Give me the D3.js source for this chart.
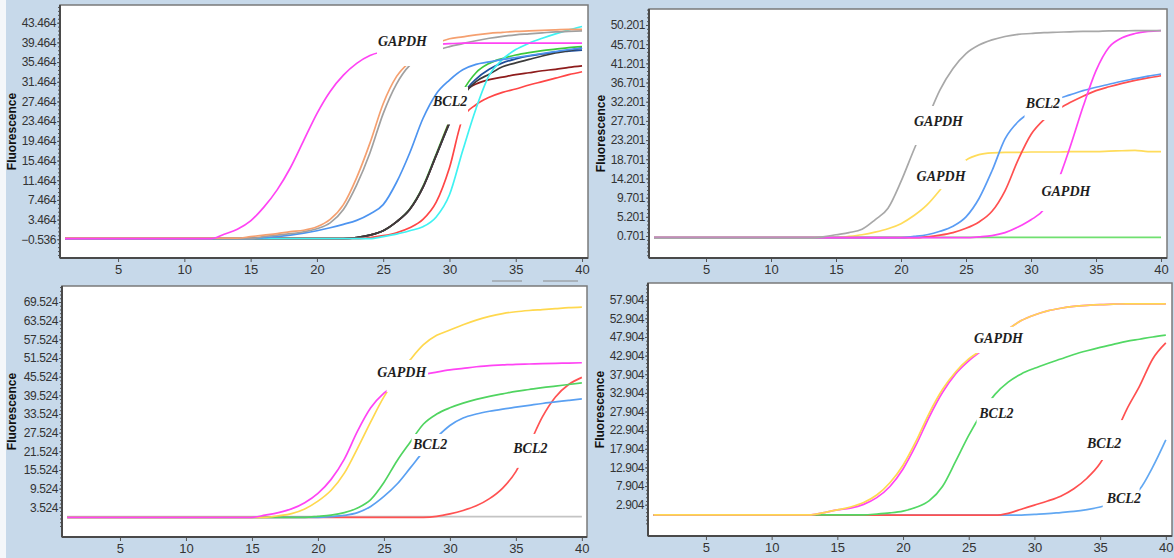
<!DOCTYPE html>
<html>
<head>
<meta charset="utf-8">
<script src="https://cdn.jsdelivr.net/npm/d3@7"></script>
<style>
body { margin: 0; background: #fff; }
svg text { font-family: "Liberation Sans", Arial, sans-serif; }
</style>
</head>
<body>
<script>
let width = 1174, height = 558;

// amplification cycles and axis ticks
const cycles = [1,2,3,4,5,6,7,8,9,10,11,12,13,14,15,16,17,18,19,20,21,22,23,24,25,26,27,28,29,30,31,32,33,34,35,36,37,38,39,40];
const xTicks = [5,10,15,20,25,30,35,40];
const ticksA = [-0.536,3.464,7.464,11.464,15.464,19.464,23.464,27.464,31.464,35.464,39.464,43.464];
const ticksB = [0.701,5.201,9.701,14.201,18.701,23.201,27.701,32.201,36.701,41.201,45.701,50.201];
const ticksC = [3.524,9.524,15.524,21.524,27.524,33.524,39.524,45.524,51.524,57.524,63.524,69.524];
const ticksD = [2.904,7.904,12.904,17.904,22.904,27.904,32.904,37.904,42.904,47.904,52.904,57.904];

// panel A (top left)
const aPink    = [-0.4,-0.4,-0.4,-0.4,-0.4,-0.4,-0.4,-0.4,-0.4,-0.4,-0.4,-0.4,0.5,1.5,3.2,6,9.5,14,19.5,25,29.5,32.8,35.2,36.8,37.6,38.2,38.6,38.9,39.1,39.2,39.3,39.3,39.3,39.3,39.3,39.3,39.3,39.3,39.3,39.3];
const aOrange  = [-0.3,-0.3,-0.3,-0.3,-0.3,-0.3,-0.3,-0.3,-0.3,-0.3,-0.3,-0.3,-0.3,-0.3,0,0.3,0.6,1.0,1.3,2,3.5,6.5,12,19,27,32.5,35.5,37.5,39.2,40.2,40.6,41,41.3,41.5,41.7,41.8,41.9,42,42.1,42.1];
const aGray    = [-0.4,-0.4,-0.4,-0.4,-0.4,-0.4,-0.4,-0.4,-0.4,-0.4,-0.4,-0.4,-0.4,-0.4,-0.4,0,0.3,0.6,1.0,1.6,2.8,5.5,10.5,17,25,31,34.8,36.5,37.8,38.6,39.2,39.8,40.3,40.7,41,41.2,41.4,41.6,41.7,41.8];
const aBlue    = [-0.4,-0.4,-0.4,-0.4,-0.4,-0.4,-0.4,-0.4,-0.4,-0.4,-0.4,-0.4,-0.4,-0.4,-0.4,-0.2,0,0.3,0.7,1.2,1.8,2.5,3.3,4.6,6.5,11,17,24,29,31.8,33.9,35,35.5,36,36.4,36.8,37.2,37.6,38,38.3];
const aBlack   = [-0.4,-0.4,-0.4,-0.4,-0.4,-0.4,-0.4,-0.4,-0.4,-0.4,-0.4,-0.4,-0.4,-0.4,-0.4,-0.4,-0.4,-0.4,-0.4,-0.4,-0.4,-0.4,-0.2,0.3,1.2,3,5.5,10,16.5,23,28.5,31.5,33,34.5,35.3,36,36.7,37.3,37.8,38.3];
const aGreen   = [-0.4,-0.4,-0.4,-0.4,-0.4,-0.4,-0.4,-0.4,-0.4,-0.4,-0.4,-0.4,-0.4,-0.4,-0.4,-0.4,-0.4,-0.4,-0.4,-0.4,-0.4,-0.4,-0.2,0.3,1.2,3,5.6,10.2,16.8,23.5,29.5,33.3,35.2,36.2,36.9,37.4,37.8,38.1,38.4,38.6];
const aDarkRed = [-0.4,-0.4,-0.4,-0.4,-0.4,-0.4,-0.4,-0.4,-0.4,-0.4,-0.4,-0.4,-0.4,-0.4,-0.4,-0.4,-0.4,-0.4,-0.4,-0.4,-0.4,-0.4,-0.2,0.3,1.2,3,5.5,10,16.5,23.2,29,31,31.9,32.4,32.9,33.3,33.7,34,34.4,34.7];
const aNavy    = [-0.4,-0.4,-0.4,-0.4,-0.4,-0.4,-0.4,-0.4,-0.4,-0.4,-0.4,-0.4,-0.4,-0.4,-0.4,-0.4,-0.4,-0.4,-0.4,-0.4,-0.4,-0.4,-0.2,0.3,1.2,3,5.5,10,16.5,23,28.8,32,34,35.3,36.1,36.7,37.1,37.5,37.7,37.9];
const aRed     = [-0.4,-0.4,-0.4,-0.4,-0.4,-0.4,-0.4,-0.4,-0.4,-0.4,-0.4,-0.4,-0.4,-0.4,-0.4,-0.4,-0.4,-0.4,-0.4,-0.4,-0.4,-0.4,-0.4,-0.2,0.2,0.8,1.8,3.5,7,14,24,26.8,28.3,29.3,30,30.8,31.5,32.2,32.9,33.5];
const aCyan    = [-0.4,-0.4,-0.4,-0.4,-0.4,-0.4,-0.4,-0.4,-0.4,-0.4,-0.4,-0.4,-0.4,-0.4,-0.4,-0.4,-0.4,-0.4,-0.4,-0.4,-0.4,-0.4,-0.4,-0.4,0,0.5,1.2,2.0,4,8.5,17.5,26,32.8,36,38,39.3,40.3,41.2,42,42.7];

// panel B (top right)
const bGray    = [0.2,0.2,0.2,0.2,0.2,0.2,0.2,0.2,0.2,0.2,0.2,0.2,0.2,0.5,1.0,1.5,2.3,4.5,7.2,13.5,21,28,35,40,43.5,45.5,46.7,47.5,48,48.2,48.4,48.5,48.6,48.7,48.7,48.8,48.8,48.9,48.9,48.9];
const bYellow  = [0.3,0.3,0.3,0.3,0.3,0.3,0.3,0.3,0.3,0.3,0.3,0.3,0.3,0.3,0.3,0.6,1.0,1.6,2.4,3.6,5.5,8,11.5,15.5,18.5,19.8,20.2,20.3,20.3,20.4,20.4,20.4,20.5,20.5,20.5,20.6,20.7,20.8,20.5,20.5];
const bBlue    = [0.3,0.3,0.3,0.3,0.3,0.3,0.3,0.3,0.3,0.3,0.3,0.3,0.3,0.3,0.3,0.3,0.3,0.3,0.3,0.3,0.6,1.0,1.8,3.0,5.2,9.5,16,23.5,27.5,29.8,31.5,32.8,33.8,34.8,35.6,36.3,37,37.6,38.2,38.7];
const bRed     = [0.3,0.3,0.3,0.3,0.3,0.3,0.3,0.3,0.3,0.3,0.3,0.3,0.3,0.3,0.3,0.3,0.3,0.3,0.3,0.3,0.3,0.5,0.9,1.5,2.5,4,6.5,11.3,18.5,24.5,28,30.3,32,33.5,34.8,35.7,36.5,37.2,37.8,38.3];
const bPink    = [0.3,0.3,0.3,0.3,0.3,0.3,0.3,0.3,0.3,0.3,0.3,0.3,0.3,0.3,0.3,0.3,0.3,0.3,0.3,0.3,0.3,0.3,0.3,0.3,0.3,0.5,0.8,1.5,2.8,4.5,7,13,21.5,31,39.5,45,47.2,48.2,48.7,48.9];
const bGreen   = [0.4,0.4,0.4,0.4,0.4,0.4,0.4,0.4,0.4,0.4,0.4,0.4,0.4,0.4,0.4,0.4,0.4,0.4,0.4,0.4,0.4,0.4,0.4,0.4,0.4,0.4,0.4,0.4,0.4,0.4,0.4,0.4,0.4,0.4,0.4,0.4,0.4,0.4,0.4,0.4];

// panel C (bottom left)
const cGray    = [0.5,0.5,0.5,0.5,0.5,0.5,0.5,0.5,0.5,0.5,0.5,0.5,0.5,0.5,0.5,0.5,0.5,0.5,0.5,0.5,0.5,0.5,0.5,0.5,0.5,0.5,0.5,0.5,0.5,0.5,0.5,0.5,0.5,0.5,0.5,0.5,0.5,0.5,0.5,0.5];
const cPink    = [0.3,0.3,0.3,0.3,0.3,0.3,0.3,0.3,0.3,0.3,0.3,0.3,0.3,0.3,0.3,1.0,1.8,3.0,5,8,12.5,19,28,35.5,40.2,43.2,45,46.2,47,47.7,48.2,48.7,49.1,49.3,49.5,49.6,49.7,49.8,49.9,50];
const cYellow  = [0.3,0.3,0.3,0.3,0.3,0.3,0.3,0.3,0.3,0.3,0.3,0.3,0.3,0.3,0.3,0.3,0.8,1.5,3,5.5,9,14.5,22.5,31,39,45.5,51,55.8,58.8,60.5,62.2,63.7,64.9,65.8,66.4,66.8,67.1,67.4,67.7,67.9];
const cGreen   = [0.3,0.3,0.3,0.3,0.3,0.3,0.3,0.3,0.3,0.3,0.3,0.3,0.3,0.3,0.3,0.3,0.3,0.3,0.3,0.6,1.0,1.8,3.3,6,11.5,18.5,24.5,30.3,33.5,35.5,37,38.2,39.2,40,40.8,41.4,42,42.5,43,43.5];
const cBlue    = [0.3,0.3,0.3,0.3,0.3,0.3,0.3,0.3,0.3,0.3,0.3,0.3,0.3,0.3,0.3,0.3,0.3,0.3,0.3,0.3,0.5,0.9,1.8,3.8,7,11,16.2,21.5,26,29.8,32.2,33.5,34.4,35.1,35.7,36.3,36.9,37.4,37.9,38.4];
const cRed     = [0.3,0.3,0.3,0.3,0.3,0.3,0.3,0.3,0.3,0.3,0.3,0.3,0.3,0.3,0.3,0.3,0.3,0.3,0.3,0.3,0.3,0.3,0.3,0.3,0.3,0.3,0.3,0.3,0.6,1.4,2.5,4,6.3,9.7,15,23.5,32.5,39,43,45.3];

// panel D (bottom right)
const dYellow  = [0.2,0.2,0.2,0.2,0.2,0.2,0.2,0.2,0.2,0.2,0.2,0.2,0.2,0.8,1.5,2.3,3.5,5.5,8.8,13.5,20,27.5,33.8,38.5,42,44.5,47.5,50,52.3,53.8,54.9,55.6,56.1,56.4,56.6,56.7,56.8,56.8,56.8,56.8];
const dPink    = [0.2,0.2,0.2,0.2,0.2,0.2,0.2,0.2,0.2,0.2,0.2,0.2,0.2,0.8,1.5,2.0,3.0,4.8,7.8,12.5,19,26.5,33,38,41.5,44.3,47.4,50,52.3,53.8,54.9,55.6,56.1,56.4,56.6,56.7,56.8,56.8,56.8,56.8];
const dGreen   = [0.2,0.2,0.2,0.2,0.2,0.2,0.2,0.2,0.2,0.2,0.2,0.2,0.2,0.2,0.2,0.2,0.2,0.4,0.7,1.2,2.2,4,7.8,14.5,21.5,27.5,32.5,35.8,38,39.5,40.8,42,43.2,44.2,45.1,45.9,46.7,47.3,47.9,48.4];
const dRed     = [0.1,0.1,0.1,0.1,0.1,0.1,0.1,0.1,0.1,0.1,0.1,0.1,0.1,0.1,0.1,0.1,0.1,0.1,0.1,0.1,0.1,0.1,0.1,0.1,0.1,0.1,0.1,0.6,1.7,2.8,3.9,5.2,7.2,10,14,20.5,28.3,34.7,42,46.3];
const dBlue    = [0.1,0.1,0.1,0.1,0.1,0.1,0.1,0.1,0.1,0.1,0.1,0.1,0.1,0.1,0.1,0.1,0.1,0.1,0.1,0.1,0.1,0.1,0.1,0.1,0.1,0.1,0.1,0.1,0.1,0.3,0.5,0.8,1.1,1.6,2.3,3.3,4.8,7,13,20.3];

// gene labels (left/baseline, in cycle / fluorescence units)
const notesA = [{t: 'GAPDH', c: 24.6, v: 38.7}, {t: 'BCL2', c: 28.76, v: 26.5}];
const notesB = [{t: 'GAPDH', c: 21, v: 26.5}, {t: 'GAPDH', c: 21.2, v: 13.6}, {t: 'BCL2', c: 29.6, v: 30.7}, {t: 'GAPDH', c: 30.8, v: 10.1}];
const notesC = [{t: 'GAPDH', c: 24.5, v: 45.4}, {t: 'BCL2', c: 27.2, v: 22.3}, {t: 'BCL2', c: 34.8, v: 21}];
const notesD = [{t: 'GAPDH', c: 25.4, v: 46.3}, {t: 'BCL2', c: 25.8, v: 26.2}, {t: 'BCL2', c: 34, v: 18.1}, {t: 'BCL2', c: 35.5, v: 3.4}];

// white boxes pasted over the curves behind the labels: [c0, c1, v0, v1]
const gapsA = [[24.53, 29.51, 34.67, 42.99], [29.74, 31.4, 22.8, 30.4]];
const gapsB = [[20.7, 25.0, 22.05, 31.2], [21, 25, 11.7, 18.5], [29.5, 32.4, 27.9, 34.0], [30.6, 34.6, 6.56, 15.2]];
const gapsC = [[25.2, 28.35, 40.6, 50.9], [27.1, 30.0, 20.0, 27.1], [34.7, 37.6, 16.2, 27.1]];
const gapsD = [[25.3, 29.1, 43.6, 50.6], [25.6, 28.7, 22.9, 31.5], [33.9, 36.8, 14.9, 25.6], [35.2, 38.0, 1.7, 7.9]];

const panels = [
    {box: [60, 5, 588, 258], xd: [0.62, 40.45], yd: [-4.34, 47.06], ticks: ticksA, step: 4, labX: 12, notes: notesA, gaps: gapsA,
     lines: [[aGreen, '#3cc83c'], [aNavy, '#1f4f9c'], [aDarkRed, '#8e1c1c'], [aBlack, '#3c3c3c'], [aRed, '#ff4646'], [aCyan, '#3ff2f2'],
             [aBlue, '#4d94f0'], [aGray, '#a0a0a0'], [aOrange, '#f5a070'], [aPink, '#ff44f4']]},
    {box: [649, 9, 1167, 258], xd: [0.615, 40.46], yd: [-4.46, 53.95], ticks: ticksB, step: 4.5, labX: 601, notes: notesB, gaps: gapsB,
     lines: [[bGreen, '#70e070'], [bYellow, '#ffdc5a'], [bRed, '#ff5050'], [bBlue, '#5a9cf4'], [bPink, '#ff44f4'], [bGray, '#a8a8a8']]},
    {box: [62, 286, 587, 537], xd: [0.606, 40.39], yd: [-6.03, 74.67], ticks: ticksC, step: 6, labX: 12, notes: notesC, gaps: gapsC,
     lines: [[cGray, '#c4c4c4'], [cRed, '#ff5252'], [cBlue, '#5aa0f2'], [cGreen, '#50d460'], [cYellow, '#ffd84e'], [cPink, '#ff44f4']]},
    {box: [648, 283, 1172, 536], xd: [0.59, 40.47], yd: [-5.49, 62.38], ticks: ticksD, step: 5, labX: 600, notes: notesD, gaps: gapsD,
     lines: [[dBlue, '#62a8f2'], [dRed, '#ff5050'], [dGreen, '#52d864'], [dPink, '#ff44f4'], [dYellow, '#ffd850']]}
];

let svg = d3.select('body').append('svg')
    .attr('width', width)
    .attr('height', height);

svg.append('rect').attr('width', width).attr('height', height).attr('fill', '#c7d9ea');
svg.append('rect').attr('width', 6).attr('height', height).attr('fill', '#f4f7fa');

// leftover scraps of the cropped screenshot
svg.append('line').attr('x1', 492).attr('x2', 522).attr('y1', 281).attr('y2', 281).attr('stroke', '#8a8a8a');
svg.append('line').attr('x1', 543).attr('x2', 578).attr('y1', 281).attr('y2', 281).attr('stroke', '#8a8a8a');

panels.forEach(function(p, i) {
    let [x0, y0, x1, y1] = p.box;
    let x = d3.scaleLinear().domain(p.xd).range([x0, x1]);
    let y = d3.scaleLinear().domain(p.yd).range([y1, y0]);
    let g = svg.append('g');

    g.append('rect')
        .attr('x', x0).attr('y', y0)
        .attr('width', x1 - x0).attr('height', y1 - y0)
        .attr('fill', '#fff')
        .attr('stroke', '#7a7a7a')
        .attr('stroke-width', 1.5);

    svg.append('clipPath').attr('id', 'clip' + i)
        .append('rect').attr('x', x0 + 1).attr('y', y0 + 1)
        .attr('width', x1 - x0 - 2).attr('height', y1 - y0 - 2);

    let line = d3.line()
        .x(d => x(d[0]))
        .y(d => y(d[1]))
        .curve(d3.curveMonotoneX);

    let plot = g.append('g').attr('clip-path', 'url(#clip' + i + ')');
    plot.selectAll('path.curve').data(p.lines)
        .enter().append('path')
        .attr('class', 'curve')
        .attr('d', d => line(d3.zip(cycles, d[0])))
        .attr('fill', 'none')
        .attr('stroke', d => d[1])
        .attr('stroke-width', 1.7);

    plot.selectAll('rect.gap').data(p.gaps)
        .enter().append('rect')
        .attr('class', 'gap')
        .attr('x', d => x(d[0]))
        .attr('y', d => y(d[3]))
        .attr('width', d => x(d[1]) - x(d[0]))
        .attr('height', d => y(d[2]) - y(d[3]))
        .attr('fill', '#fff');

    plot.selectAll('text.note').data(p.notes)
        .enter().append('text')
        .attr('class', 'note')
        .attr('x', d => x(d.c))
        .attr('y', d => y(d.v))
        .style('font-family', '"Liberation Serif", "Times New Roman", serif')
        .style('font-weight', 'bold')
        .style('font-style', 'italic')
        .style('font-size', '14px')
        .attr('fill', '#1e1e1e')
        .text(d => d.t);

    // axes
    let yAxis = g.append('g')
        .attr('transform', 'translate(' + x0 + ',0)')
        .call(d3.axisLeft(y).tickValues(p.ticks).tickFormat(d3.format('.3f')).tickSize(3).tickPadding(1));
    let minor = [];
    for (let v = p.ticks[0] - p.step; v < p.yd[1]; v += p.step / 5) {
        if (v > p.yd[0]) minor.push(v);
    }
    let yMinor = g.append('g')
        .attr('transform', 'translate(' + x0 + ',0)')
        .call(d3.axisLeft(y).tickValues(minor).tickFormat('').tickSize(2));

    let xAxis = g.append('g')
        .attr('transform', 'translate(0,' + y1 + ')')
        .call(d3.axisBottom(x).tickValues(xTicks).tickSize(4).tickPadding(3));

    [yAxis, yMinor, xAxis].forEach(a => {
        a.select('.domain').remove();
        a.selectAll('line').attr('stroke', '#555');
        a.selectAll('text').attr('fill', '#333');
    });
    yAxis.selectAll('text').style('font-size', '12px').style('letter-spacing', '-0.4px');
    xAxis.selectAll('text').style('font-size', '13px');

    g.append('line').attr('x1', x0).attr('x2', x0).attr('y1', y0).attr('y2', y1)
        .attr('stroke', '#4a4a4a').attr('stroke-width', 2);
    g.append('line').attr('x1', x0).attr('x2', x1).attr('y1', y1).attr('y2', y1)
        .attr('stroke', '#4a4a4a').attr('stroke-width', 2);

    g.append('text')
        .attr('transform', 'translate(' + p.labX + ',' + ((y0 + y1) / 2) + ') rotate(-90)')
        .attr('text-anchor', 'middle')
        .attr('dy', '0.35em')
        .style('font-size', '12px')
        .style('font-weight', 'bold')
        .attr('fill', '#111')
        .text('Fluorescence');
});
</script>
</body>
</html>
